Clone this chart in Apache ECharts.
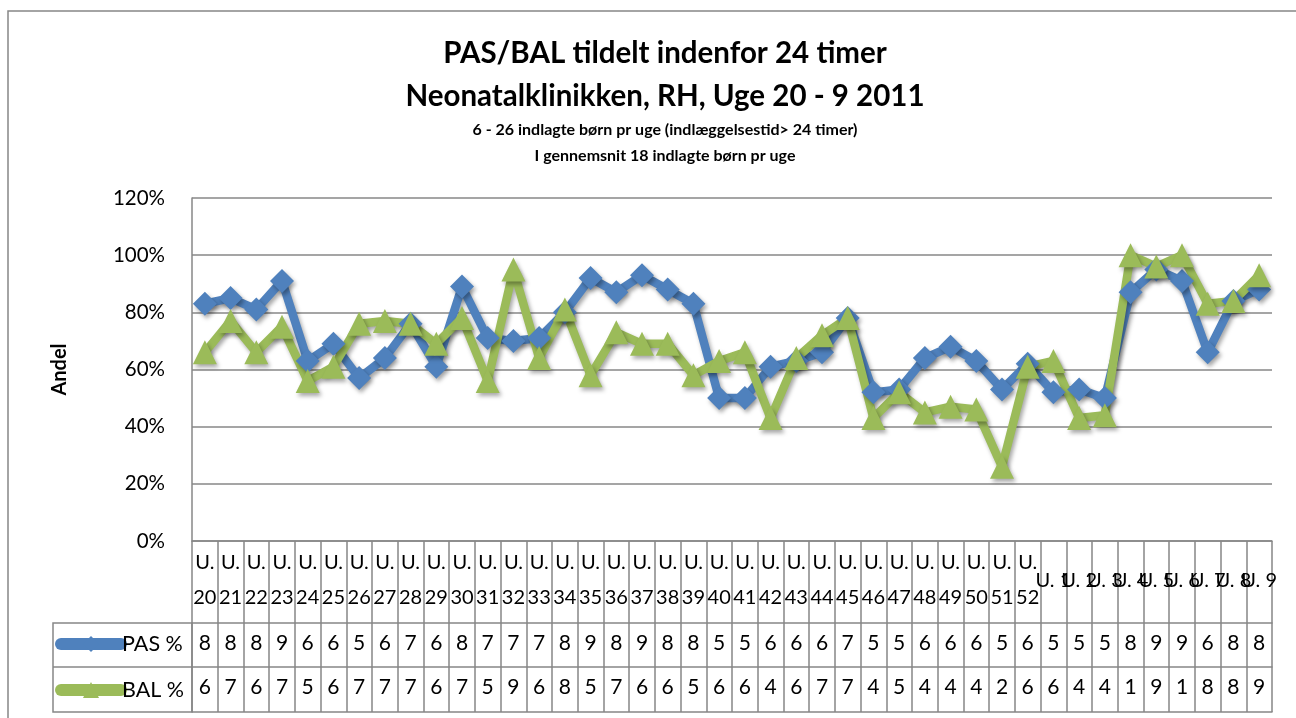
<!DOCTYPE html>
<html>
<head>
<meta charset="utf-8">
<script src="https://cdn.jsdelivr.net/npm/echarts@6/dist/echarts.min.js"></script>
<style>
  html, body { margin: 0; padding: 0; background: #fff; }
  #main { width: 1296px; height: 718px; }
</style>
</head>
<body>
<div id="main"></div>
<script>
// uger (kategorier)
var categories = ['U.\n20','U.\n21','U.\n22','U.\n23','U.\n24','U.\n25','U.\n26','U.\n27','U.\n28','U.\n29',
    'U.\n30','U.\n31','U.\n32','U.\n33','U.\n34','U.\n35','U.\n36','U.\n37','U.\n38','U.\n39',
    'U.\n40','U.\n41','U.\n42','U.\n43','U.\n44','U.\n45','U.\n46','U.\n47','U.\n48','U.\n49',
    'U.\n50','U.\n51','U.\n52','U. 1','U. 2','U. 3','U. 4','U. 5','U. 6','U. 7','U. 8','U. 9'];

// PAS % og BAL % (procent)
var pasValues = [83, 85, 81, 91, 63, 69, 57, 64, 76, 61, 89, 71, 70, 71, 80, 92, 87, 93, 88, 83,
    50, 50, 61, 63, 66, 78, 52, 53, 64, 68, 63, 53, 62,
    52, 53, 50, 87, 95, 91, 66, 84, 88];
var balValues = [66, 77, 66, 75, 56, 61, 76, 77, 76, 69, 78, 56, 95, 64, 81, 58, 73, 69, 69, 58,
    63, 66, 43, 64, 72, 78, 43, 52, 45, 47, 46, 26, 61,
    63, 43, 44, 100, 96, 100, 83, 84, 93];

var yTicks = [0, 20, 40, 60, 80, 100, 120];

var blue = '#4F81BD';
var green = '#9BBB59';
var gray = '#878787';
var font = 'Lato';
var shadow = { shadowBlur: 4, shadowColor: 'rgba(0,0,0,0.35)', shadowOffsetX: 2, shadowOffsetY: 3 };

// datatabellen viser kun det foerste ciffer
function firstDigit(v) { return String(Math.round(v)).charAt(0); }

var myChart = echarts.init(document.getElementById('main'));

var option = {
    animation: false,
    textStyle: { fontFamily: font },
    title: [{
        text: 'PAS/BAL tildelt indenfor 24 timer\nNeonatalklinikken, RH, Uge 20 - 9 2011',
        left: 660,
        top: 27,
        textAlign: 'center',
        textStyle: { fontFamily: font, fontSize: 29.5, fontWeight: 'bold', color: '#000', lineHeight: 43 }
    }, {
        text: '6 - 26 indlagte børn pr uge (indlæggelsestid> 24 timer)\nI gennemsnit 18 indlagte børn pr uge',
        left: 660,
        top: 112,
        textAlign: 'center',
        textStyle: { fontFamily: font, fontSize: 16, fontWeight: 'bold', color: '#000', lineHeight: 26 }
    }],
    legend: {
        orient: 'vertical',
        left: 55,
        top: 633,
        padding: 0,
        itemWidth: 60,
        itemHeight: 20,
        itemGap: 24,
        lineStyle: { width: 12, cap: 'round', shadowBlur: 0, shadowOffsetX: 0, shadowOffsetY: 0 },
        itemStyle: { shadowBlur: 0, shadowOffsetX: 0, shadowOffsetY: 0 },
        textStyle: { fontFamily: font, fontSize: 21.5, color: '#000', padding: [0, 0, 0, -4] },
        data: ['PAS %', 'BAL %']
    },
    grid: { left: 192, right: 24, top: 198, bottom: 177 },
    xAxis: [{
        type: 'category',
        data: categories,
        boundaryGap: true,
        axisLine: { lineStyle: { color: gray, width: 1.5 } },
        axisTick: { show: true, interval: 0, length: 171, lineStyle: { color: gray, width: 1.5 } },
        axisLabel: {
            interval: 0, fontSize: 20, lineHeight: 35, color: '#000', margin: 4,
            // enkeltlinjede etiketter centreres lodret i raekken
            formatter: function (v) { return v.indexOf('\n') >= 0 ? v : '{one|' + v + '}'; },
            rich: { one: { fontSize: 20, lineHeight: 72, color: '#000' } }
        }
    }, {
        type: 'category',
        data: pasValues.map(firstDigit),
        position: 'bottom',
        offset: 82,
        axisLine: { lineStyle: { color: gray, width: 1.5 } },
        axisTick: { show: false },
        axisLabel: { interval: 0, fontSize: 21, color: '#000', margin: 10 }
    }, {
        type: 'category',
        data: balValues.map(firstDigit),
        position: 'bottom',
        offset: 126,
        axisLine: { lineStyle: { color: gray, width: 1.5 } },
        axisTick: { show: false },
        axisLabel: { interval: 0, fontSize: 21, color: '#000', margin: 10 }
    }, {
        type: 'category',
        data: categories,
        position: 'bottom',
        offset: 171,
        axisLine: { lineStyle: { color: gray, width: 1.5 } },
        axisTick: { show: false },
        axisLabel: { show: false }
    }],
    yAxis: {
        type: 'value',
        min: yTicks[0],
        max: yTicks[yTicks.length - 1],
        interval: 20,
        name: 'Andel',
        nameLocation: 'middle',
        nameGap: 122,
        nameRotate: 90,
        nameTextStyle: { fontFamily: font, fontSize: 20, fontWeight: 'bold', color: '#000' },
        axisLine: { show: true, lineStyle: { color: gray, width: 1.5 } },
        axisTick: { show: false },
        axisLabel: { fontSize: 20.5, color: '#000', margin: 27, formatter: '{value}%' },
        splitLine: { lineStyle: { color: gray, width: 1.5 } }
    },
    series: [{
        name: 'PAS %',
        type: 'line',
        data: pasValues,
        symbol: 'diamond',
        symbolSize: 24,
        lineStyle: Object.assign({ width: 8.5, color: blue }, shadow),
        itemStyle: Object.assign({ color: blue }, shadow)
    }, {
        name: 'BAL %',
        type: 'line',
        data: balValues,
        symbol: 'triangle',
        symbolSize: 24,
        lineStyle: Object.assign({ width: 8.5, color: green }, shadow),
        itemStyle: Object.assign({ color: green }, shadow)
    }],
    // ramme og tabelcellerne til venstre
    graphic: [{
        type: 'rect',
        shape: { x: 8, y: 11, width: 1400, height: 800 },
        style: { fill: 'none', stroke: gray, lineWidth: 1.5 },
        silent: true
    }, {
        type: 'rect',
        shape: { x: 53, y: 623, width: 139, height: 89 },
        style: { fill: 'none', stroke: gray, lineWidth: 1.5 },
        silent: true
    }, {
        type: 'line',
        shape: { x1: 53, y1: 667, x2: 192, y2: 667 },
        style: { stroke: gray, lineWidth: 1.5 },
        silent: true
    }]
};

myChart.setOption(option);
</script>
</body>
</html>
